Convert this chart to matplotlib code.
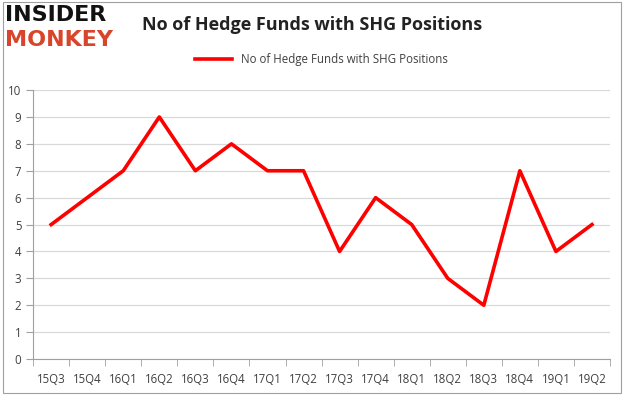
import matplotlib
matplotlib.use("Agg")
import matplotlib.pyplot as plt
from matplotlib.patches import Rectangle

quarters = ["15Q3", "15Q4", "16Q1", "16Q2", "16Q3", "16Q4", "17Q1", "17Q2",
            "17Q3", "17Q4", "18Q1", "18Q2", "18Q3", "18Q4", "19Q1", "19Q2"]
funds = [5, 6, 7, 9, 7, 8, 7, 7, 4, 6, 5, 3, 2, 7, 4, 5]
yticks = list(range(0, 11))

plt.rcParams["font.family"] = ["Open Sans", "DejaVu Sans"]

fig = plt.figure(figsize=(6.25, 3.95), dpi=100)
ax = fig.add_axes([0.053, 0.091, 0.923, 0.681])

x = list(range(len(quarters)))
ax.plot(x, funds, color="#ff0000", linewidth=2.6, label="No of Hedge Funds with SHG Positions")

ax.set_xlim(-0.5, len(quarters) - 0.5)
ax.set_ylim(0, 10)
ax.set_yticks(yticks)
ax.set_xticks(x)
ax.set_xticklabels(quarters)
ax.set_xticks([i - 0.5 for i in range(len(quarters) + 1)], minor=True)
ax.tick_params(axis="x", which="major", length=0, pad=10, labelsize=8.3, labelcolor="#404040")
ax.tick_params(axis="x", which="minor", length=5, color="#a0a0a0", direction="out")
ax.tick_params(axis="y", length=5, color="#a0a0a0", labelsize=8.3, labelcolor="#404040", direction="out")
ax.grid(axis="y", color="#d9d9d9", linewidth=0.9)
ax.set_axisbelow(True)
for side in ["top", "right"]:
    ax.spines[side].set_visible(False)
for side in ["left", "bottom"]:
    ax.spines[side].set_color("#a0a0a0")

ax.legend(loc="lower center", bbox_to_anchor=(0.5, 1.05), frameon=False, fontsize=8.3,
          handlelength=3.2, labelcolor="#404040")

fig.text(0.5, 0.937, "No of Hedge Funds with SHG Positions", ha="center", va="center",
         fontsize=13, fontweight="bold", color="#222222")
fig.text(0.008, 0.962, "INSIDER", ha="left", va="center", fontsize=16, fontweight="heavy",
         color="#111111", family="DejaVu Sans")
fig.text(0.008, 0.9, "MONKEY", ha="left", va="center", fontsize=16, fontweight="heavy",
         color="#d9452b", family="DejaVu Sans")

fig.patches.append(Rectangle((0.004, 0.006), 0.99, 0.99, transform=fig.transFigure,
                             fill=False, edgecolor="#a0a0a0", linewidth=0.8))

fig.savefig("out.png", dpi=100)
